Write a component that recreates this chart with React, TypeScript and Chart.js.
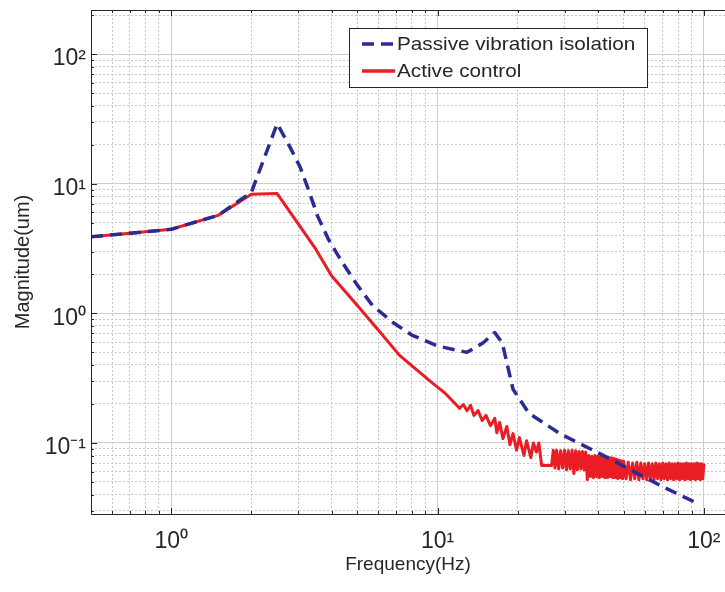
import React, { useEffect, useRef } from 'react';
import { Chart, registerables } from 'chart.js';

Chart.register(...registerables);

const FONT = '"Liberation Sans", Arial, Helvetica, sans-serif';
const INK = '#262626';

const seriesNames = ['Passive vibration isolation', 'Active control'];
const xTitle = 'Frequency(Hz)';
const yTitle = 'Magnitude(um)';

const X_MIN = 0.5;
const X_MAX = 120;
const Y_MIN = 0.0283;
const Y_MAX = 219;

const xMajorTicks = [1, 10, 100];
const xTickLabels = ['10⁰', '10¹', '10²'];
const xMinorTicks = [0.5, 0.6, 0.7, 0.8, 0.9, 2, 3, 4, 5, 6, 7, 8, 9, 20, 30, 40, 50, 60, 70, 80, 90];
const yMajorTicks = [0.1, 1, 10, 100];
const yTickLabels = ['10⁻¹', '10⁰', '10¹', '10²'];
const yMinorTicks = [0.03, 0.04, 0.05, 0.06, 0.07, 0.08, 0.09, 0.2, 0.3, 0.4, 0.5, 0.6, 0.7, 0.8, 0.9, 2, 3, 4, 5, 6, 7, 8, 9, 20, 30, 40, 50, 60, 70, 80, 90, 200];

const passiveFreq = [0.5, 0.7, 1.0, 1.5, 2.0, 2.5, 2.8, 3.05, 3.25, 3.55, 3.9, 4.4, 5.0, 5.7, 6.8, 8.0, 10.0, 12.9, 14.8, 16.4, 17.5, 19.2, 22.0, 28.8, 41.0, 70.0, 95.0];
const passiveMag = [3.9, 4.15, 4.45, 5.7, 8.6, 29.0, 19.0, 13.4, 9.4, 5.6, 3.7, 2.45, 1.65, 1.15, 0.85, 0.68, 0.56, 0.5, 0.59, 0.71, 0.59, 0.26, 0.17, 0.118, 0.082, 0.046, 0.034];

const activeFreq = [
  0.5, 0.7, 1.0, 1.5, 2.0, 2.5, 3.0, 3.5, 4.0, 5.0, 6.0, 7.2, 8.4, 9.6, 10.7, 12.1,
  12.5, 12.9, 13.3, 13.7, 14.2, 14.7, 15.2, 15.8, 16.4, 16.7, 17.1, 17.6, 18.2, 18.7, 19.2, 19.8,
  20.3, 21.1, 21.6, 22.4, 22.9, 23.5, 24.0, 24.6, 26.8,
  27.2, 27.6, 28.0, 28.5, 29.0, 29.5, 30.0, 30.5, 31.0, 31.5, 32.0, 32.5, 33.0, 33.5, 34.0, 34.5,
  35.0, 35.5, 36.0, 36.5, 37.0, 37.5, 38.0, 38.5, 39.0, 39.5, 40.0, 40.5, 41.0, 41.5, 42.0, 42.5,
  43.0, 43.5, 44.0, 44.5, 45.0, 45.5, 46.0, 46.5, 47.0, 47.5, 48.0, 48.5, 49.0, 49.5, 50,
  51, 52, 53, 54, 55, 56, 57, 58, 59, 60, 61, 62, 63, 64, 65, 66, 67, 68, 69, 70,
  71, 72, 73, 74, 75, 76, 77, 78, 79, 80, 81, 82, 83, 84, 85, 86, 87, 88, 89, 90,
  91, 92, 93, 94, 95, 96, 97, 98, 99, 100,
];
const activeMag = [
  3.9, 4.15, 4.45, 5.7, 8.3, 8.4, 4.9, 3.1, 1.95, 1.15, 0.74, 0.474, 0.363, 0.288, 0.241, 0.185,
  0.198, 0.177, 0.195, 0.163, 0.178, 0.149, 0.163, 0.136, 0.155, 0.12, 0.144, 0.108, 0.134, 0.097, 0.118, 0.088,
  0.11, 0.08, 0.104, 0.077, 0.1, 0.085, 0.1, 0.067, 0.067,
  0.088, 0.064, 0.088, 0.063, 0.087, 0.064, 0.088, 0.062, 0.087, 0.063, 0.088, 0.058, 0.087, 0.062, 0.086, 0.063,
  0.086, 0.062, 0.085, 0.052, 0.08, 0.055, 0.079, 0.054, 0.08, 0.055, 0.079, 0.054, 0.078, 0.055, 0.079, 0.054,
  0.078, 0.054, 0.077, 0.055, 0.077, 0.054, 0.076, 0.054, 0.075, 0.053, 0.074, 0.054, 0.073, 0.053, 0.072,
  0.053, 0.071, 0.052, 0.07, 0.053, 0.071, 0.052, 0.07, 0.053, 0.069, 0.052, 0.07, 0.053, 0.069, 0.052, 0.07, 0.053, 0.069, 0.052, 0.07,
  0.053, 0.069, 0.052, 0.07, 0.053, 0.069, 0.052, 0.069, 0.053, 0.07, 0.052, 0.069, 0.053, 0.069, 0.052, 0.07, 0.053, 0.069, 0.052, 0.069,
  0.053, 0.069, 0.052, 0.07, 0.053, 0.069, 0.052, 0.069, 0.053, 0.068,
];

const BLUE = '#2b2b96';
const RED = '#ea1c24';

const isMajor = (v: number) => Math.abs(Math.log10(v) - Math.round(Math.log10(v))) < 1e-6;
const labelFor = (v: number, majors: number[], labels: string[]) => {
  const i = majors.findIndex((m) => Math.abs(m - v) / m < 1e-6);
  return i >= 0 ? labels[i] : '';
};

const framePlugin = {
  id: 'matlabFrame',
  afterDraw(chart: any) {
    const { ctx, chartArea } = chart;
    const { left, right, top, bottom } = chartArea;
    const xs = chart.scales.x;
    const ys = chart.scales.y;
    ctx.save();
    ctx.strokeStyle = INK;
    ctx.lineWidth = 1;
    ctx.beginPath();
    ctx.moveTo(Math.round(left) + 0.5, Math.round(top) + 0.5);
    ctx.lineTo(right, Math.round(top) + 0.5);
    ctx.moveTo(Math.round(left) + 0.5, Math.round(top) + 0.5);
    ctx.lineTo(Math.round(left) + 0.5, Math.round(bottom) + 0.5);
    ctx.lineTo(right, Math.round(bottom) + 0.5);
    ctx.stroke();
    ctx.beginPath();
    [...xMajorTicks, ...xMinorTicks].forEach((v) => {
      const px = Math.round(xs.getPixelForValue(v)) + 0.5;
      const len = isMajor(v) ? 6 : 3;
      ctx.moveTo(px, bottom);
      ctx.lineTo(px, bottom - len);
      ctx.moveTo(px, top);
      ctx.lineTo(px, top + len);
    });
    [...yMajorTicks, ...yMinorTicks].forEach((v) => {
      const py = Math.round(ys.getPixelForValue(v)) + 0.5;
      const len = isMajor(v) ? 6 : 3;
      ctx.moveTo(left, py);
      ctx.lineTo(left + len, py);
    });
    ctx.stroke();

    const bx = left + 258;
    const by = top + 18;
    const bw = 298;
    const bh = 59;
    ctx.fillStyle = '#ffffff';
    ctx.fillRect(bx, by, bw, bh);
    ctx.strokeStyle = INK;
    ctx.strokeRect(Math.round(bx) + 0.5, Math.round(by) + 0.5, bw, bh);
    const entries = [
      { name: seriesNames[0], color: BLUE, dash: [12, 7], y: by + 16 },
      { name: seriesNames[1], color: RED, dash: [], y: by + 43 },
    ];
    entries.forEach((e) => {
      ctx.save();
      ctx.strokeStyle = e.color;
      ctx.lineWidth = 3.5;
      ctx.setLineDash(e.dash);
      ctx.beginPath();
      ctx.moveTo(bx + 13, e.y);
      ctx.lineTo(bx + 46, e.y);
      ctx.stroke();
      ctx.restore();
      ctx.save();
      ctx.fillStyle = INK;
      ctx.font = `19px ${FONT}`;
      ctx.textBaseline = 'middle';
      ctx.translate(bx + 48, e.y + 1);
      ctx.scale(1.09, 1);
      ctx.fillText(e.name, 0, 0);
      ctx.restore();
    });
    ctx.restore();
  },
};

export default function App() {
  const ref = useRef<HTMLCanvasElement | null>(null);

  useEffect(() => {
    if (!ref.current) return;
    const gridColor = (c: any) => (isMajor(c.tick.value) ? 'rgba(212,202,202,1)' : 'rgba(198,198,198,1)');
    const gridDash = (c: any) => (c.tick && isMajor(c.tick.value) ? [] : [2, 2]);
    const chart = new Chart(ref.current, {
      type: 'line',
      data: {
        datasets: [
          {
            label: seriesNames[0],
            data: passiveFreq.map((f, i) => ({ x: f, y: passiveMag[i] })),
            borderColor: BLUE,
            borderWidth: 3.5,
            borderDash: [12, 7],
            borderJoinStyle: 'round',
            pointRadius: 0,
            tension: 0,
            fill: false,
          },
          {
            label: seriesNames[1],
            data: activeFreq.map((f, i) => ({ x: f, y: activeMag[i] })),
            borderColor: RED,
            borderWidth: 3,
            borderJoinStyle: 'round',
            borderCapStyle: 'round',
            pointRadius: 0,
            tension: 0,
            fill: false,
          },
        ],
      },
      options: {
        animation: false,
        responsive: false,
        devicePixelRatio: 1,
        layout: { padding: { top: 10, left: 0, right: 0, bottom: 0 } },
        plugins: { legend: { display: false }, tooltip: { enabled: false } },
        scales: {
          x: {
            type: 'logarithmic',
            min: X_MIN,
            max: X_MAX,
            afterBuildTicks: (s: any) => {
              s.ticks = [...xMinorTicks, ...xMajorTicks].sort((a, b) => a - b).map((v) => ({ value: v }));
            },
            afterFit: (s: any) => {
              s.height = 78;
              s.paddingLeft = 0;
              s.paddingRight = 0;
              s.paddingTop = 0;
              s.paddingBottom = 0;
            },
            ticks: {
              autoSkip: false,
              maxRotation: 0,
              padding: 14,
              color: INK,
              font: { family: FONT, size: 23 },
              callback: (v: any) => labelFor(Number(v), xMajorTicks, xTickLabels),
            },
            grid: { drawTicks: false, color: gridColor, lineWidth: 1 },
            border: { display: false, dash: gridDash },
            title: {
              display: true,
              text: xTitle,
              color: INK,
              font: { family: FONT, size: 19 },
              padding: { top: 0, bottom: 16 },
            },
          } as any,
          y: {
            type: 'logarithmic',
            min: Y_MIN,
            max: Y_MAX,
            afterBuildTicks: (s: any) => {
              s.ticks = [...yMinorTicks, ...yMajorTicks].sort((a, b) => a - b).map((v) => ({ value: v }));
            },
            afterFit: (s: any) => {
              s.width = 91;
              s.paddingLeft = 0;
              s.paddingRight = 0;
              s.paddingTop = 0;
              s.paddingBottom = 0;
            },
            ticks: {
              autoSkip: false,
              padding: 5,
              labelOffset: 5,
              color: INK,
              font: { family: FONT, size: 23 },
              callback: (v: any) => labelFor(Number(v), yMajorTicks, yTickLabels),
            },
            grid: { drawTicks: false, color: gridColor, lineWidth: 1 },
            border: { display: false, dash: gridDash },
            title: {
              display: true,
              text: yTitle,
              color: INK,
              font: { family: FONT, size: 20 },
              padding: { top: 11, bottom: 0 },
            },
          } as any,
        },
      },
      plugins: [framePlugin],
    });
    return () => chart.destroy();
  }, []);

  return (
    <div style={{ position: 'fixed', left: 0, top: 0, width: 725, height: 592, background: '#ffffff' }}>
      <canvas ref={ref} width={725} height={592} style={{ display: 'block', width: 725, height: 592 }} />
    </div>
  );
}
